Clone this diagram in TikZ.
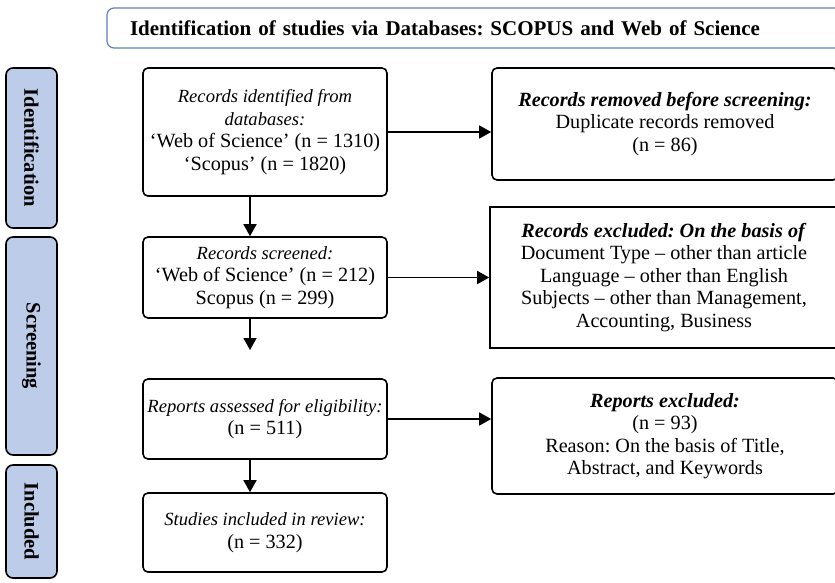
\documentclass[tikz,border=0pt]{standalone}
\usepackage{fontspec}
\setmainfont{Liberation Serif}
\usetikzlibrary{arrows.meta}
\definecolor{stagefill}{RGB}{189,204,232}
\definecolor{headline}{RGB}{96,128,186}
\newcommand{\itline}[1]{{\itshape\fontsize{18.6}{22.5}\selectfont #1}}
\tikzset{
  box/.style={draw, line width=1.6pt, rounded corners=5pt, align=center, inner sep=0pt,
    font=\frenchspacing\fontsize{20.2}{22.5}\selectfont},
  stage/.style={draw, line width=1.6pt, rounded corners=7pt, fill=stagefill, rotate=-90,
    font=\bfseries\fontsize{20.5}{20}\selectfont},
  flow/.style={-{Triangle[length=12pt,width=13pt]}, line width=1.6pt},
}
\begin{document}
\begin{tikzpicture}[x=1pt,y=-1pt]
  \useasboundingbox (0,0) rectangle (835,582);
  % Header
  \node[draw=headline, line width=1.2pt, rounded corners=7pt, minimum width=738pt, minimum height=40pt,
    text width=692pt, align=left, inner xsep=23pt, font=\frenchspacing\bfseries\fontsize{21}{24}\selectfont]
    (head) at (476,28) {Identification of studies via Databases: SCOPUS and Web of Science};
  % Stages
  \node[stage, minimum width=160pt, minimum height=51pt] (ident) at (31.5,148) {Identification};
  \node[stage, minimum width=218pt, minimum height=51pt] (screen) at (31.5,346) {Screening};
  \node[stage, minimum width=113pt, minimum height=51pt] (incl) at (31.5,521.5) {Included};
  % Main flow
  \node[box, minimum width=244pt, minimum height=128pt] (id) at (265,132)
    {\itline{Records identified from}\\ \itline{databases:}\\ ‘Web of Science’ (n = 1310)\\ ‘Scopus’ (n = 1820)};
  \node[box, minimum width=244pt, minimum height=81pt] (scr) at (265,277.5)
    {\itline{Records screened:}\\ ‘Web of Science’ (n = 212)\\ Scopus (n = 299)};
  \node[box, minimum width=244pt, minimum height=80pt] (rep) at (265,419)
    {\itline{Reports assessed for eligibility:}\\ (n = 511)};
  \node[box, minimum width=244pt, minimum height=79pt] (stud) at (265,532.5)
    {\itline{Studies included in review:}\\ (n = 332)};
  % Excluded side
  \node[box, minimum width=346pt, minimum height=112pt] (rem) at (665,124)
    {\textbf{\textit{Records removed before screening:}}\\ Duplicate records removed\\ (n = 86)};
  \node[box, rounded corners=0pt, minimum width=348pt, minimum height=141pt] (exc) at (664,277.5)
    {\textbf{\textit{Records excluded: On the basis of}}\\ Document Type – other than article\\
     Language – other than English\\ Subjects – other than Management,\\ Accounting, Business};
  \node[box, minimum width=346pt, minimum height=116pt] (repexc) at (665,436)
    {\textbf{\textit{Reports excluded:}}\\ (n = 93)\\ Reason: On the basis of Title,\\ Abstract, and Keywords};
  \coordinate (gap) at (250,350);
  % Arrows
  \draw[flow] (id.east) -- (id.east -| rem.west);
  \draw[flow] (scr.east) -- (exc.west);
  \draw[flow] (rep.east) -- (rep.east -| repexc.west);
  \draw[flow] ([xshift=-15pt]id.south) -- ([xshift=-15pt]scr.north);
  \draw[flow] ([xshift=-15pt]scr.south) -- (gap);
  \draw[flow] ([xshift=-15pt]rep.south) -- ([xshift=-15pt]stud.north);
\end{tikzpicture}
\end{document}
